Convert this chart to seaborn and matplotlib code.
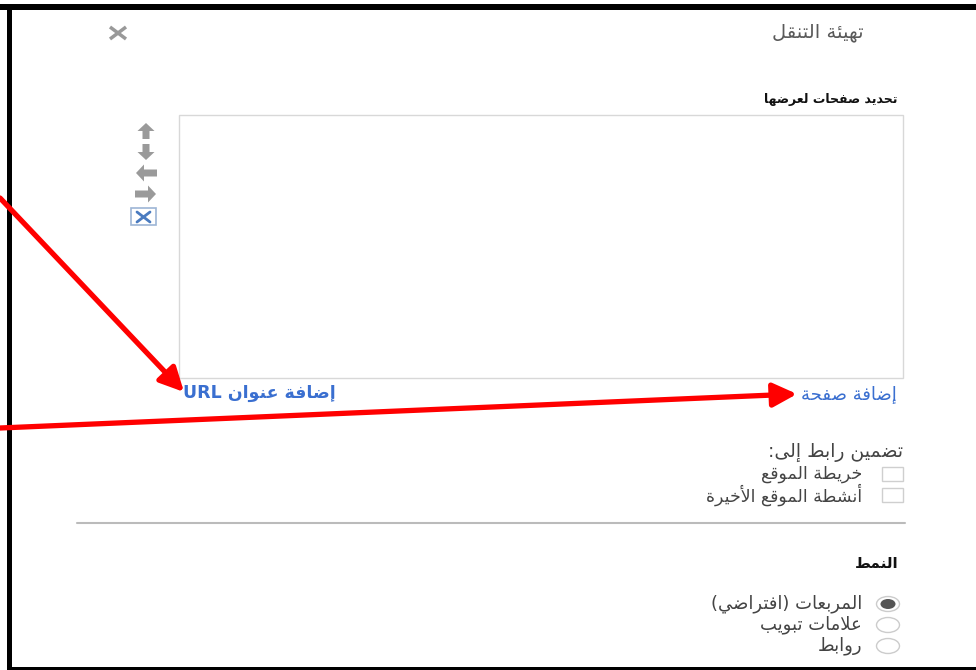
import re
import seaborn as sns
from matplotlib import pyplot as plt
from matplotlib import patches

# texts of the dialog (logical order)
dialog_title = "تهيئة التنقل"
pages_label = "تحديد صفحات لعرضها"
add_url = "إضافة عنوان URL"
add_page = "إضافة صفحة"
include_label = "تضمين رابط إلى:"
include_options = ["خريطة الموقع", "أنشطة الموقع الأخيرة"]
style_label = "النمط"
style_options = ["المربعات (افتراضي)", "علامات تبويب", "روابط"]
style_selected = [True, False, False]

# --- minimal arabic shaping + rtl ordering (matplotlib does not do it) ---
DUAL = {'ب': 0xFE8F, 'ت': 0xFE95, 'ث': 0xFE99, 'ج': 0xFE9D, 'ح': 0xFEA1, 'خ': 0xFEA5,
        'س': 0xFEB1, 'ش': 0xFEB5, 'ص': 0xFEB9, 'ض': 0xFEBD, 'ط': 0xFEC1, 'ظ': 0xFEC5,
        'ع': 0xFEC9, 'غ': 0xFECD, 'ف': 0xFED1, 'ق': 0xFED5, 'ك': 0xFED9, 'ل': 0xFEDD,
        'م': 0xFEE1, 'ن': 0xFEE5, 'ه': 0xFEE9, 'ي': 0xFEF1, 'ئ': 0xFE89}
RIGHT = {'ا': 0xFE8D, 'أ': 0xFE83, 'إ': 0xFE87, 'آ': 0xFE81, 'د': 0xFEA9, 'ذ': 0xFEAB,
         'ر': 0xFEAD, 'ز': 0xFEAF, 'و': 0xFEED, 'ؤ': 0xFE85, 'ة': 0xFE93, 'ى': 0xFEEF}
LAM_ALEF = {'ا': 0xFEFB, 'أ': 0xFEF7, 'إ': 0xFEF9, 'آ': 0xFEF5}


def joining(c):
    return isinstance(c, tuple) or c in DUAL or c in RIGHT


def shape(s):
    chars = []
    i = 0
    while i < len(s):
        if s[i] == 'ل' and i + 1 < len(s) and s[i + 1] in LAM_ALEF:
            chars.append(('LA', s[i + 1]))
            i += 2
        else:
            chars.append(s[i])
            i += 1
    out = []
    for k, c in enumerate(chars):
        prev = chars[k - 1] if k > 0 else None
        nxt = chars[k + 1] if k + 1 < len(chars) else None
        p = prev is not None and not isinstance(prev, tuple) and prev in DUAL and joining(c)
        if isinstance(c, tuple):
            out.append(chr(LAM_ALEF[c[1]] + (1 if p else 0)))
        elif c in DUAL:
            n = nxt is not None and joining(nxt)
            off = 3 if (p and n) else 1 if p else 2 if n else 0
            out.append(chr(DUAL[c] + off))
        elif c in RIGHT:
            out.append(chr(RIGHT[c] + (1 if p else 0)))
        else:
            out.append(c)
    return ''.join(out)


def rtl(s):
    parts = re.findall(r'[A-Za-z0-9]+|[^A-Za-z0-9]', shape(s))[::-1]
    mirror = {'(': ')', ')': '('}
    return ''.join(mirror.get(p, p) for p in parts)


sns.set_theme(style="white")
plt.rcParams['font.family'] = ['DejaVu Sans']

fig = plt.figure(figsize=(9.76, 6.70), dpi=100)
ax = fig.add_axes([0, 0, 1, 1])
ax.set_xlim(0, 976)
ax.set_ylim(670, 0)
ax.axis('off')

gray_txt = '#444444'
blue = '#3a6fd0'
fs = 12.5

# frame
ax.add_patch(patches.Rectangle((0, 4), 976, 6, color='black', lw=0))
ax.add_patch(patches.Rectangle((7, 4), 5, 666, color='black', lw=0))
ax.add_patch(patches.Rectangle((7, 667), 969, 3, color='black', lw=0))

# header
ax.text(864, 33, rtl(dialog_title), ha='right', va='center', fontsize=14, color='#5a5a5a')
ax.plot([110, 126], [27, 39], color='#999999', lw=2.5, solid_capstyle='butt')
ax.plot([110, 126], [39, 27], color='#999999', lw=2.5, solid_capstyle='butt')

# pages list
ax.text(898, 100, rtl(pages_label), ha='right', va='center', fontsize=9,
        fontweight='bold', color='#111111')
ax.add_patch(patches.Rectangle((179, 115), 724, 263, fill=False, ec='#d8d8d8', lw=1))

# move icons
arrow_kw = dict(width=7, head_width=17, head_length=8, color='#9a9a9a', lw=0,
                length_includes_head=True)
ax.add_patch(patches.FancyArrow(146, 139, 0, -16, **arrow_kw))
ax.add_patch(patches.FancyArrow(146, 144, 0, 16, **arrow_kw))
ax.add_patch(patches.FancyArrow(157, 173, -21, 0, **arrow_kw))
ax.add_patch(patches.FancyArrow(135, 194, 21, 0, **arrow_kw))
ax.add_patch(patches.Rectangle((131, 208), 25, 17, fill=False, ec='#9db5d5', lw=1.2))
ax.plot([137, 150], [212, 222], color='#4a7bc0', lw=2)
ax.plot([137, 150], [222, 212], color='#4a7bc0', lw=2)

# links
ax.text(183, 393, rtl(add_url), ha='left', va='center', fontsize=12.5,
        fontweight='bold', color=blue)
ax.text(897, 394, rtl(add_page), ha='right', va='center', fontsize=13, color=blue)

# include links
ax.text(903, 452, rtl(include_label), ha='right', va='center', fontsize=13.5, color=gray_txt)
for i, opt in enumerate(include_options):
    yc = 474 + i * 21
    ax.add_patch(patches.Rectangle((882, yc - 7), 21, 14, fill=False, ec='#cfcfcf', lw=1))
    ax.text(862, yc, rtl(opt), ha='right', va='center', fontsize=fs, color=gray_txt)

# separator
ax.plot([77, 905], [523, 523], color='#bbbbbb', lw=1.5)

# style
ax.text(898, 563, rtl(style_label), ha='right', va='center', fontsize=11,
        fontweight='bold', color='#111111')
for i, (opt, sel) in enumerate(zip(style_options, style_selected)):
    yc = 604 + i * 21
    ax.add_patch(patches.Ellipse((888, yc), 23, 15, fill=False, ec='#cccccc', lw=1))
    if sel:
        ax.add_patch(patches.Ellipse((888, yc), 15, 10, color='#555555', lw=0))
    ax.text(862, yc, rtl(opt), ha='right', va='center', fontsize=fs + 0.5, color=gray_txt)

# red annotation arrows
for start, end in [((0, 198), (184, 392)), ((0, 428), (797, 394))]:
    ax.annotate('', xy=end, xytext=start,
                arrowprops=dict(arrowstyle='-|>,head_length=1.2,head_width=0.6',
                                color='#ff0000', lw=3.8, shrinkA=0, shrinkB=0))

fig.savefig('out.png', dpi=100)
